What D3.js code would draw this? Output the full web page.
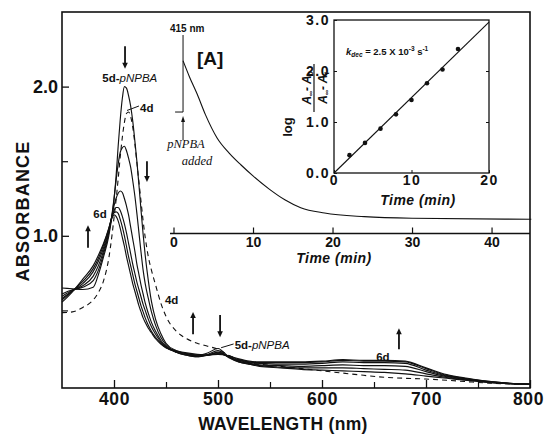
<!DOCTYPE html>
<html>
<head>
<meta charset="utf-8">
<script src="https://cdn.jsdelivr.net/npm/d3@7"></script>
<style>
  html, body { margin: 0; padding: 0; background: #fff; }
  svg { display: block; font-family: "Liberation Sans", Arial, sans-serif; }
</style>
</head>
<body>
<svg id="chart" width="544" height="435"></svg>
<script>
// ---- spectra (absorbance vs wavelength, nm) ----
const wavelengths = [350, 360, 370, 380, 385, 390, 395, 398, 400, 402, 404, 406, 408, 410, 412,
  414, 416, 418, 420, 422, 424, 426, 428, 430, 433, 436, 440, 445, 450, 460, 470, 480, 490, 500,
  510, 520, 530, 540, 560, 580, 600, 620, 640, 660, 680, 700, 720, 740, 760, 780, 800];

const abs4d = [0.485, 0.49, 0.52, 0.57, 0.62, 0.70, 0.85, 1.0, 1.12, 1.24, 1.38, 1.53, 1.66, 1.76, 1.82,
  1.83, 1.80, 1.73, 1.62, 1.49, 1.36, 1.23, 1.10, 0.99, 0.86, 0.77, 0.67, 0.55, 0.46, 0.36, 0.31, 0.28, 0.26, 0.24,
  0.20, 0.17, 0.15, 0.14, 0.125, 0.11, 0.095, 0.08, 0.065, 0.052, 0.045, 0.04, 0.032, 0.022, 0.013, 0.007, 0.004];

const abs5d = [0.65, 0.645, 0.64, 0.655, 0.74, 0.86, 1.0, 1.13, 1.24, 1.40, 1.60, 1.78, 1.92, 2.0, 1.99,
  1.94, 1.87, 1.77, 1.64, 1.50, 1.34, 1.17, 1.01, 0.87, 0.70, 0.56, 0.44, 0.345, 0.28, 0.23, 0.21, 0.20, 0.215, 0.245,
  0.19, 0.155, 0.14, 0.125, 0.115, 0.105, 0.10, 0.095, 0.09, 0.085, 0.075, 0.06, 0.045, 0.03, 0.017, 0.009, 0.005];

const absMid1 = [0.61, 0.638, 0.655, 0.70, 0.77, 0.88, 1.02, 1.14, 1.25, 1.37, 1.48, 1.56, 1.59, 1.60, 1.57,
  1.52, 1.46, 1.37, 1.27, 1.15, 1.02, 0.89, 0.77, 0.68, 0.58, 0.49, 0.40, 0.32, 0.27, 0.22, 0.20, 0.19, 0.205, 0.23,
  0.185, 0.155, 0.14, 0.13, 0.12, 0.115, 0.115, 0.115, 0.11, 0.105, 0.10, 0.075, 0.05, 0.033, 0.018, 0.009, 0.005];

const absMid2 = [0.595, 0.635, 0.665, 0.73, 0.80, 0.90, 1.03, 1.13, 1.20, 1.25, 1.285, 1.30, 1.29, 1.25, 1.20,
  1.14, 1.06, 0.98, 0.90, 0.81, 0.74, 0.67, 0.61, 0.55, 0.48, 0.42, 0.36, 0.30, 0.26, 0.22, 0.20, 0.19, 0.20, 0.22,
  0.19, 0.16, 0.145, 0.135, 0.13, 0.125, 0.13, 0.135, 0.13, 0.13, 0.125, 0.09, 0.055, 0.037, 0.02, 0.01, 0.005];

const absMid3 = [0.58, 0.632, 0.68, 0.76, 0.83, 0.92, 1.04, 1.13, 1.17, 1.19, 1.19, 1.17, 1.13, 1.08, 1.02,
  0.95, 0.88, 0.81, 0.75, 0.69, 0.64, 0.59, 0.54, 0.50, 0.44, 0.39, 0.34, 0.29, 0.255, 0.22, 0.205, 0.195, 0.20, 0.215,
  0.19, 0.165, 0.15, 0.145, 0.14, 0.14, 0.145, 0.155, 0.15, 0.15, 0.145, 0.10, 0.06, 0.04, 0.022, 0.011, 0.005];

const absMid4 = [0.57, 0.63, 0.695, 0.78, 0.85, 0.94, 1.05, 1.125, 1.155, 1.16, 1.15, 1.11, 1.06, 1.00, 0.93,
  0.86, 0.80, 0.74, 0.68, 0.63, 0.58, 0.53, 0.49, 0.45, 0.40, 0.36, 0.32, 0.28, 0.25, 0.225, 0.21, 0.20, 0.20, 0.21,
  0.195, 0.17, 0.155, 0.15, 0.15, 0.15, 0.155, 0.165, 0.16, 0.16, 0.155, 0.11, 0.065, 0.042, 0.024, 0.012, 0.006];

const abs6d = [0.555, 0.625, 0.71, 0.80, 0.87, 0.95, 1.05, 1.12, 1.14, 1.13, 1.10, 1.05, 0.99, 0.93, 0.86,
  0.80, 0.74, 0.68, 0.63, 0.58, 0.53, 0.49, 0.45, 0.42, 0.38, 0.35, 0.31, 0.275, 0.25, 0.23, 0.215, 0.205, 0.20, 0.205,
  0.195, 0.175, 0.16, 0.155, 0.155, 0.155, 0.16, 0.17, 0.165, 0.165, 0.16, 0.115, 0.07, 0.045, 0.025, 0.012, 0.006];

const wlTicks = [400, 500, 600, 700, 800];
const wlMinorTicks = [450, 550, 650, 750];
const absTicks = [1.0, 2.0];
const absMinorTicks = [0.5, 1.5];

// ---- inset [A]: absorbance at 415 nm vs time ----
const baseTime = [0.2, 1.2, 1.2];
const baseValue = [0.612, 0.612, 1.0];
const decayTime = [1.2, 2, 3, 4, 5.5, 7, 8.5, 10, 12, 14, 16, 19, 24, 30, 45];
const decayValue = [0.87, 0.79, 0.70, 0.60, 0.48, 0.405, 0.345, 0.29, 0.225, 0.17, 0.13, 0.103, 0.085, 0.077, 0.072];
const timeTicks = [0, 10, 20, 30, 40];

// ---- inset: first-order plot ----
const logTime = [2, 4, 6, 8, 10, 12, 14, 16];
const logValue = [0.35, 0.59, 0.87, 1.15, 1.43, 1.76, 2.03, 2.43];
const fitTime = [0, 20];
const fitValue = [0, 2.96];
const logXTicks = [0, 10, 20];
const logYTicks = [0, 1, 2, 3];

const svg = d3.select('#chart');

// main scales
const x = d3.scaleLinear().domain([350, 800]).range([62, 530]);
const y = d3.scaleLinear().domain([-0.02, 2.5]).range([388, 12]);

const series = [
  { name: '4d', values: abs4d, dashed: true },
  { name: 'mid1', values: absMid1 },
  { name: 'mid2', values: absMid2 },
  { name: 'mid3', values: absMid3 },
  { name: 'mid4', values: absMid4 },
  { name: '6d', values: abs6d },
  { name: '5d-pNPBA', values: abs5d },
];

const line = d3.line()
  .x(d => x(d[0]))
  .y(d => y(d[1]))
  .curve(d3.curveMonotoneX);

svg.append('g').selectAll('path')
  .data(series)
  .join('path')
  .attr('d', s => line(wavelengths.map((w, i) => [w, s.values[i]])))
  .attr('fill', 'none')
  .attr('stroke', '#111')
  .attr('stroke-width', s => (s.dashed ? 1.1 : 1.15))
  .attr('stroke-dasharray', s => (s.dashed ? '5,4' : null));

// frame
svg.append('rect')
  .attr('x', 62).attr('y', 12)
  .attr('width', 468).attr('height', 376)
  .attr('fill', 'none').attr('stroke', '#111').attr('stroke-width', 1.6);

// x axis
const xAxis = svg.append('g')
  .attr('transform', 'translate(0,388)')
  .call(d3.axisBottom(x).tickValues(wlTicks).tickSizeInner(-8).tickSizeOuter(0).tickPadding(5));
xAxis.select('.domain').remove();
xAxis.selectAll('line').attr('stroke', '#111').attr('stroke-width', 1.3);
xAxis.selectAll('text')
  .attr('font-size', 17.5).attr('font-weight', 'bold').attr('fill', '#111')
  .attr('font-family', '"Liberation Sans", Arial, sans-serif')
  .attr('letter-spacing', 0.6)
  .attr('dx', d => (d === 800 ? -2 : 0));

const xMinor = svg.append('g')
  .attr('transform', 'translate(0,388)')
  .call(d3.axisBottom(x).tickValues(wlMinorTicks).tickSizeInner(-6).tickSizeOuter(0).tickFormat(''));
xMinor.select('.domain').remove();
xMinor.selectAll('line').attr('stroke', '#111').attr('stroke-width', 1.2);

// y axis
const yAxis = svg.append('g')
  .attr('transform', 'translate(62,0)')
  .call(d3.axisLeft(y).tickValues(absTicks).tickSizeInner(-7).tickSizeOuter(0).tickPadding(4)
    .tickFormat(d3.format('.1f')));
yAxis.select('.domain').remove();
yAxis.selectAll('line').attr('stroke', '#111').attr('stroke-width', 1.3);
yAxis.selectAll('text')
  .attr('font-size', 18).attr('font-weight', 'bold').attr('fill', '#111')
  .attr('font-family', '"Liberation Sans", Arial, sans-serif');

const yMinor = svg.append('g')
  .attr('transform', 'translate(62,0)')
  .call(d3.axisLeft(y).tickValues(absMinorTicks).tickSizeInner(-6).tickSizeOuter(0).tickFormat(''));
yMinor.select('.domain').remove();
yMinor.selectAll('line').attr('stroke', '#111').attr('stroke-width', 1.2);

// axis titles
svg.append('text')
  .attr('x', 283).attr('y', 430)
  .attr('text-anchor', 'middle')
  .attr('font-size', 17.5).attr('font-weight', 'bold').attr('fill', '#111')
  .attr('letter-spacing', 0.3)
  .text('WAVELENGTH (nm)');

svg.append('text')
  .attr('transform', 'translate(29,211) rotate(-90)')
  .attr('text-anchor', 'middle')
  .attr('font-size', 18).attr('font-weight', 'bold').attr('fill', '#111')
  .attr('letter-spacing', 1.2)
  .text('ABSORBANCE');

// arrows: [wavelength, from absorbance, to absorbance (head)]
const arrows = [
  [410.6, 2.27, 2.12],
  [431.7, 1.50, 1.36],
  [375, 0.92, 1.07],
  [476, 0.34, 0.49],
  [502, 0.47, 0.32],
  [674, 0.24, 0.38],
];
const arrowG = svg.append('g');
arrows.forEach(([w, a0, a1]) => {
  const ax = x(w), y0 = y(a0), y1 = y(a1);
  const dir = y1 < y0 ? -1 : 1;
  arrowG.append('line')
    .attr('x1', ax).attr('x2', ax)
    .attr('y1', y0).attr('y2', y1 - dir * 5)
    .attr('stroke', '#111').attr('stroke-width', 1.8);
  arrowG.append('path')
    .attr('d', `M${ax - 2.8},${y1 - dir * 6}L${ax + 2.8},${y1 - dir * 6}L${ax},${y1}Z`)
    .attr('fill', '#111');
});

// spectrum labels
function labelPd(g, px, py, anchor) {
  const t = g.append('text')
    .attr('x', px).attr('y', py)
    .attr('text-anchor', anchor)
    .attr('font-size', 11.5).attr('font-weight', 'bold').attr('fill', '#111');
  t.append('tspan').text('5d-');
  t.append('tspan').attr('font-style', 'italic').attr('font-weight', 'normal').text('pNPBA');
}
labelPd(svg, x(415.2), y(2.03), 'middle');
labelPd(svg, x(516), y(0.24), 'start');

svg.append('line')
  .attr('x1', x(412.5)).attr('y1', y(1.84))
  .attr('x2', x(424)).attr('y2', y(1.87))
  .attr('stroke', '#111').attr('stroke-width', 1);
svg.append('line')
  .attr('x1', x(503)).attr('y1', y(0.25))
  .attr('x2', x(515)).attr('y2', y(0.275))
  .attr('stroke', '#111').attr('stroke-width', 1);

const smallLabels = [
  ['4d', 425, 1.83, 'start'],
  ['6d', 386.5, 1.12, 'middle'],
  ['4d', 449, 0.54, 'start'],
  ['6d', 658.5, 0.16, 'middle'],
];
svg.append('g').selectAll('text')
  .data(smallLabels)
  .join('text')
  .attr('x', d => x(d[1])).attr('y', d => y(d[2]))
  .attr('text-anchor', d => d[3])
  .attr('font-size', 11.5).attr('font-weight', 'bold').attr('fill', '#111')
  .text(d => d[0]);

// ---- inset [A] ----
const xA = d3.scaleLinear().domain([0, 45]).range([173.5, 531.3]);
const yA = d3.scaleLinear().domain([0, 1]).range([233.5, 35]);

const lineA = d3.line().x(d => xA(d[0])).y(d => yA(d[1]));
svg.append('path')
  .attr('d', lineA(baseTime.map((t, i) => [t, baseValue[i]])))
  .attr('fill', 'none').attr('stroke', '#111').attr('stroke-width', 1);
svg.append('path')
  .attr('d', lineA.curve(d3.curveMonotoneX)(decayTime.map((t, i) => [t, decayValue[i]])))
  .attr('fill', 'none').attr('stroke', '#111').attr('stroke-width', 1.1);

svg.append('line')
  .attr('x1', 170).attr('x2', 530).attr('y1', yA(0)).attr('y2', yA(0))
  .attr('stroke', '#111').attr('stroke-width', 1.4);
const aAxis = svg.append('g')
  .attr('transform', `translate(0,${yA(0)})`)
  .call(d3.axisBottom(xA).tickValues(timeTicks).tickSizeInner(-6).tickSizeOuter(0).tickPadding(4));
aAxis.select('.domain').remove();
aAxis.selectAll('line').attr('stroke', '#111').attr('stroke-width', 1.2);
aAxis.selectAll('text')
  .attr('font-size', 14).attr('font-weight', 'bold').attr('fill', '#111')
  .attr('font-family', '"Liberation Sans", Arial, sans-serif');

svg.append('text')
  .attr('x', 334).attr('y', 263)
  .attr('text-anchor', 'middle')
  .attr('font-size', 14).attr('font-weight', 'bold').attr('font-style', 'italic')
  .attr('letter-spacing', 0.5).attr('fill', '#111')
  .text('Time (min)');

svg.append('text')
  .attr('x', 170).attr('y', 32)
  .attr('font-size', 10).attr('font-weight', 'bold').attr('fill', '#111')
  .text('415 nm');
svg.append('text')
  .attr('x', 197).attr('y', 65)
  .attr('font-size', 19).attr('font-weight', 'bold').attr('fill', '#111')
  .text('[A]');

// pNPBA added marker
svg.append('line')
  .attr('x1', xA(1.2)).attr('x2', xA(1.2))
  .attr('y1', 140).attr('y2', 121)
  .attr('stroke', '#111').attr('stroke-width', 1);
svg.append('path')
  .attr('d', `M${xA(1.2) - 2},${122}L${xA(1.2) + 2},${122}L${xA(1.2)},${116}Z`)
  .attr('fill', '#111');
svg.append('text')
  .attr('x', 186).attr('y', 148)
  .attr('text-anchor', 'middle')
  .attr('font-family', '"Liberation Serif", "Times New Roman", serif')
  .attr('font-style', 'italic').attr('font-size', 12.5).attr('fill', '#111')
  .text('pNPBA');
svg.append('text')
  .attr('x', 197).attr('y', 165)
  .attr('text-anchor', 'middle')
  .attr('font-family', '"Liberation Serif", "Times New Roman", serif')
  .attr('font-style', 'italic').attr('font-size', 12.5).attr('fill', '#111')
  .text('added');

// ---- inset: log plot ----
const xL = d3.scaleLinear().domain([0, 20]).range([334, 489]);
const yL = d3.scaleLinear().domain([0, 3]).range([173, 20]);

svg.append('rect')
  .attr('x', 334).attr('y', 20)
  .attr('width', 155).attr('height', 153)
  .attr('fill', '#fff').attr('stroke', '#111').attr('stroke-width', 1.3);

svg.append('path')
  .attr('d', d3.line().x(d => xL(d[0])).y(d => yL(d[1]))(fitTime.map((t, i) => [t, fitValue[i]])))
  .attr('fill', 'none').attr('stroke', '#111').attr('stroke-width', 1.1);

svg.append('g').selectAll('circle')
  .data(logTime.map((t, i) => [t, logValue[i]]))
  .join('circle')
  .attr('cx', d => xL(d[0])).attr('cy', d => yL(d[1]))
  .attr('r', 2.3).attr('fill', '#111');

const lAxisY = svg.append('g')
  .attr('transform', 'translate(334,0)')
  .call(d3.axisLeft(yL).tickValues(logYTicks).tickSizeInner(-3).tickSizeOuter(0).tickPadding(4)
    .tickFormat(d3.format('.1f')));
lAxisY.select('.domain').remove();
lAxisY.selectAll('line').attr('stroke', '#111');
lAxisY.selectAll('text')
  .attr('font-size', 14).attr('font-weight', 'bold').attr('fill', '#111')
  .attr('letter-spacing', 1.5)
  .attr('font-family', '"Liberation Sans", Arial, sans-serif');

const lAxisYR = svg.append('g')
  .attr('transform', 'translate(489,0)')
  .call(d3.axisRight(yL).tickValues([1, 2]).tickSizeInner(-3).tickSizeOuter(0).tickFormat(''));
lAxisYR.select('.domain').remove();
lAxisYR.selectAll('line').attr('stroke', '#111');

const lAxisX = svg.append('g')
  .attr('transform', 'translate(0,173)')
  .call(d3.axisBottom(xL).tickValues(logXTicks).tickSizeInner(-3).tickSizeOuter(0).tickPadding(2));
lAxisX.select('.domain').remove();
lAxisX.selectAll('line').attr('stroke', '#111');
lAxisX.selectAll('text')
  .attr('font-size', 14).attr('font-weight', 'bold').attr('fill', '#111')
  .attr('letter-spacing', 1.5)
  .attr('font-family', '"Liberation Sans", Arial, sans-serif');

svg.append('text')
  .attr('x', 418).attr('y', 205)
  .attr('text-anchor', 'middle')
  .attr('font-size', 14).attr('font-weight', 'bold').attr('font-style', 'italic')
  .attr('letter-spacing', 0.5).attr('fill', '#111')
  .text('Time (min)');

// rate constant
const kText = svg.append('text')
  .attr('x', 346).attr('y', 55)
  .attr('font-size', 9.5).attr('font-weight', 'bold').attr('fill', '#111');
kText.append('tspan').attr('font-style', 'italic').text('k');
kText.append('tspan').attr('font-style', 'italic').attr('font-size', 6.5).attr('dy', 2).text('dec');
kText.append('tspan').attr('dy', -2).text(' = 2.5 X 10');
kText.append('tspan').attr('font-size', 6.5).attr('dy', -4).text('-3');
kText.append('tspan').attr('dy', 4).text(' s');
kText.append('tspan').attr('font-size', 6.5).attr('dy', -4).text('-1');

// rotated y label: log (A∞ - A0)/(A∞ - At)
svg.append('text')
  .attr('transform', 'translate(292,127) rotate(-90)')
  .attr('text-anchor', 'middle')
  .attr('font-size', 13).attr('font-weight', 'bold').attr('fill', '#111')
  .text('log');

const frac = svg.append('g').attr('transform', 'translate(314,88) rotate(-90)');
frac.append('line')
  .attr('x1', -24).attr('x2', 24).attr('y1', 0).attr('y2', 0)
  .attr('stroke', '#111').attr('stroke-width', 1.2);
function fracText(yPos, sub) {
  const t = frac.append('text')
    .attr('x', 0).attr('y', yPos)
    .attr('text-anchor', 'middle')
    .attr('font-size', 12).attr('font-weight', 'bold').attr('font-style', 'italic').attr('fill', '#111');
  t.append('tspan').text('A');
  t.append('tspan').attr('font-size', 7).attr('dy', 2).text('∞');
  t.append('tspan').attr('dy', -2).text('- A');
  t.append('tspan').attr('font-size', 7).attr('dy', 2).text(sub);
}
fracText(-3, '0');
fracText(13, 't');
</script>
</body>
</html>
